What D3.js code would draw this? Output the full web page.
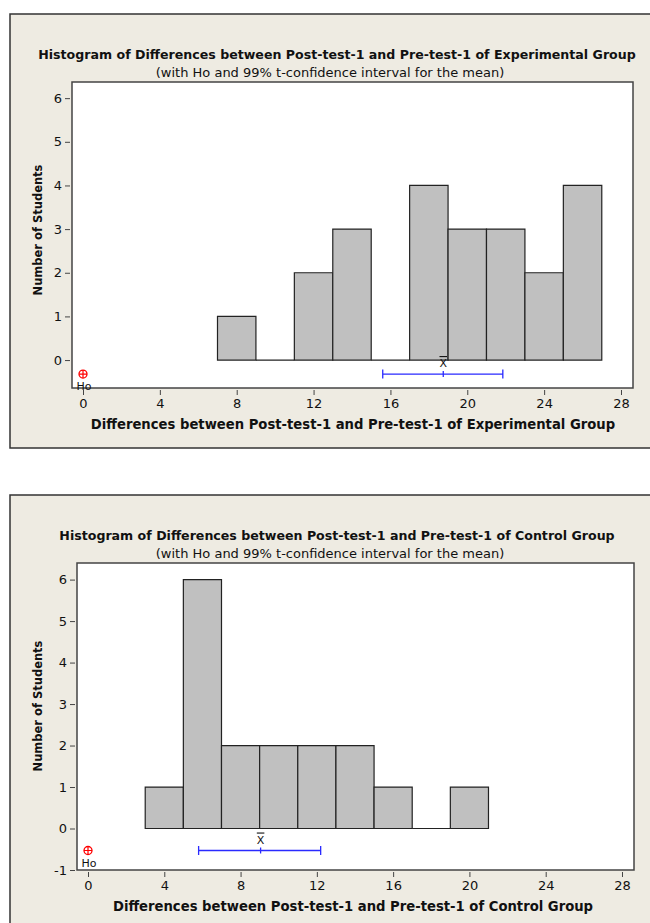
<!DOCTYPE html>
<html>
<head>
<meta charset="utf-8">
<script src="https://cdn.jsdelivr.net/npm/d3@7"></script>
<style>
  body { margin: 0; background: #fff; }
  text { font-family: "DejaVu Sans", Verdana, sans-serif; fill: #111; }
</style>
</head>
<body>
<svg id="chart" width="650" height="923"></svg>
<script>
// histogram bins: start of each bin (width 2) and its count
const binWidth = 2;
const expBinStarts = [7, 9, 11, 13, 15, 17, 19, 21, 23, 25];
const expCounts = [1, 0, 2, 3, 0, 4, 3, 3, 2, 4];
const ctlBinStarts = [3, 5, 7, 9, 11, 13, 15, 17, 19];
const ctlCounts = [1, 6, 2, 2, 2, 2, 1, 0, 1];

// 99% t-interval: [low, mean, high], and the null hypothesis value
const expInterval = [15.6, 18.75, 21.85];
const ctlInterval = [5.8, 9.05, 12.2];
const hoValue = 0;

const xTicks = [0, 4, 8, 12, 16, 20, 24, 28];
const expYTicks = [0, 1, 2, 3, 4, 5, 6];
const ctlYTicks = [-1, 0, 1, 2, 3, 4, 5, 6];

const expTitle = 'Histogram of Differences between Post-test-1 and Pre-test-1 of Experimental Group';
const ctlTitle = 'Histogram of Differences between Post-test-1 and Pre-test-1 of Control Group';
const subTitle = '(with Ho and 99% t-confidence interval for the mean)';
const expXLabel = 'Differences between Post-test-1 and Pre-test-1 of Experimental Group';
const ctlXLabel = 'Differences between Post-test-1 and Pre-test-1 of Control Group';
const yLabel = 'Number of Students';

const svg = d3.select('#chart');
// plain hyphen for negatives, like the source
const fmt = (d) => String(d);

function drawPanel(opts) {
  const g = svg.append('g');

  // beige outer frame (runs off the right edge like the source)
  g.append('rect')
    .attr('x', 10).attr('y', opts.frameTop)
    .attr('width', 660).attr('height', opts.frameHeight)
    .attr('fill', '#eeebe2')
    .attr('stroke', '#333').attr('stroke-width', 1.5);

  g.append('text')
    .attr('x', 337).attr('y', opts.frameTop + 45)
    .attr('text-anchor', 'middle')
    .style('font-size', '12.6px').style('font-weight', 'bold')
    .text(opts.title);
  g.append('text')
    .attr('x', 330).attr('y', opts.frameTop + 63)
    .attr('text-anchor', 'middle')
    .style('font-size', '13px')
    .text(subTitle);

  const x = d3.scaleLinear().domain(opts.xDomain).range([opts.left, opts.right]);
  const y = d3.scaleLinear().domain(opts.yDomain).range([opts.bottom, opts.top]);

  g.append('rect')
    .attr('x', opts.left).attr('y', opts.top)
    .attr('width', opts.right - opts.left).attr('height', opts.bottom - opts.top)
    .attr('fill', '#fff');

  // bars; empty bins show as a flat line at zero
  g.selectAll('path.bar')
    .data(opts.starts.map((s, i) => ({ s, c: opts.counts[i] })))
    .enter().append('path')
    .attr('class', 'bar')
    .attr('d', (d) => `M${x(d.s)},${y(0)}V${y(d.c)}H${x(d.s + binWidth)}V${y(0)}Z`)
    .attr('fill', '#c0c0c0')
    .attr('stroke', '#222').attr('stroke-width', 1.2);

  const axisX = d3.axisBottom(x).tickValues(xTicks).tickFormat(fmt).tickSize(5).tickSizeOuter(0);
  const axisY = d3.axisLeft(y).tickValues(opts.yTicks).tickFormat(fmt).tickSize(5).tickSizeOuter(0);

  const gx = g.append('g')
    .attr('transform', `translate(0, ${opts.bottom + 2})`)
    .call(axisX);
  gx.select('.domain').remove();
  gx.selectAll('line').attr('stroke', '#444');
  gx.selectAll('text').style('font-size', '13px').attr('font-family', null).attr('dy', '0.8em');

  const gy = g.append('g')
    .attr('transform', `translate(${opts.left - 2}, 0)`)
    .call(axisY);
  gy.select('.domain').remove();
  gy.selectAll('line').attr('stroke', '#444');
  gy.selectAll('text').style('font-size', '13px').attr('font-family', null);

  g.append('rect')
    .attr('x', opts.left).attr('y', opts.top)
    .attr('width', opts.right - opts.left).attr('height', opts.bottom - opts.top)
    .attr('fill', 'none')
    .attr('stroke', '#444').attr('stroke-width', 1.5);

  g.append('text')
    .attr('x', 353).attr('y', opts.bottom + 41)
    .attr('text-anchor', 'middle')
    .style('font-size', '13.2px').style('font-weight', 'bold')
    .text(opts.xLabel);

  g.append('text')
    .attr('transform', `translate(42, ${opts.yLabelMid}) rotate(-90)`)
    .attr('text-anchor', 'middle')
    .style('font-size', '11.5px').style('font-weight', 'bold')
    .text(yLabel);

  // Ho marker
  const hx = x(hoValue);
  const hy = y(opts.ciLevel);
  g.append('circle')
    .attr('cx', hx).attr('cy', hy).attr('r', 4)
    .attr('fill', 'none').attr('stroke', '#f00').attr('stroke-width', 1.3);
  g.append('path')
    .attr('d', `M${hx - 4},${hy}H${hx + 4}M${hx},${hy - 4}V${hy + 4}`)
    .attr('stroke', '#f00').attr('stroke-width', 1.2);
  g.append('text')
    .attr('x', hx + 1).attr('y', hy + 16)
    .attr('text-anchor', 'middle')
    .style('font-size', '11px')
    .text('Ho');

  // confidence interval
  const [lo, mean, hi] = opts.interval;
  g.append('path')
    .attr('d', `M${x(lo)},${hy}H${x(hi)}M${x(lo)},${hy - 4.5}V${hy + 4.5}M${x(hi)},${hy - 4.5}V${hy + 4.5}M${x(mean)},${hy - 3}V${hy + 3}`)
    .attr('stroke', '#2a2aff').attr('stroke-width', 1.3)
    .attr('fill', 'none');
  g.append('text')
    .attr('x', x(mean)).attr('y', hy - 7)
    .attr('text-anchor', 'middle')
    .style('font-size', '11px')
    .style('text-decoration', 'overline')
    .text('X');
}

drawPanel({
  frameTop: 14, frameHeight: 434,
  title: expTitle, xLabel: expXLabel,
  left: 72, right: 633, top: 82, bottom: 388,
  xDomain: [-0.5725, 28.625], yDomain: [-0.64, 6.37],
  yTicks: expYTicks,
  starts: expBinStarts, counts: expCounts,
  interval: expInterval, ciLevel: -0.32,
  yLabelMid: 230
});

drawPanel({
  frameTop: 495, frameHeight: 440,
  title: ctlTitle, xLabel: ctlXLabel,
  left: 77, right: 634, top: 563, bottom: 870,
  xDomain: [-0.577, 28.63], yDomain: [-1, 6.4],
  yTicks: ctlYTicks,
  starts: ctlBinStarts, counts: ctlCounts,
  interval: ctlInterval, ciLevel: -0.53,
  yLabelMid: 706
});
</script>
</body>
</html>
